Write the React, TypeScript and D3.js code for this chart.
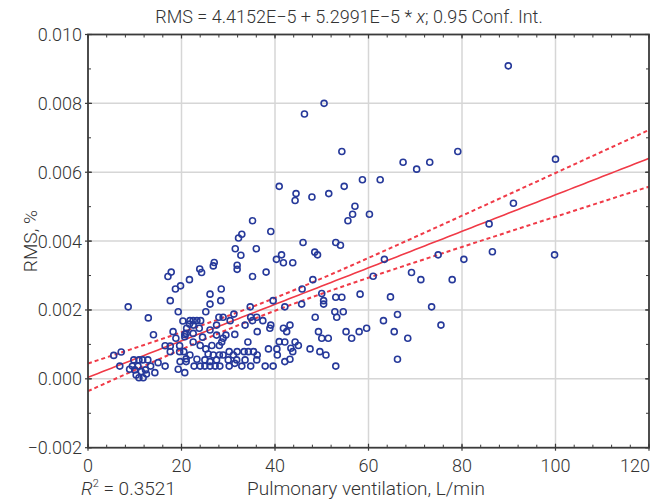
import React from "react";
import * as d3 from "d3";

const ventilation: number[] = [
  89.9, 50.5, 46.3, 54.3, 79.1, 67.4, 73.1, 70.3, 58.7, 62.5, 100.0, 40.9, 54.8, 44.5, 51.5, 47.9, 44.3, 57.1, 56.6, 60.2,
  55.6, 46.0, 53.0, 54.0, 41.4, 48.5, 49.1, 41.8, 43.8, 63.4, 74.9, 80.4, 69.2, 61.0, 71.2, 77.9, 48.1, 45.8, 91.0, 85.8,
  86.5, 99.8, 35.2, 39.1, 32.9, 32.2, 31.5, 36.0, 32.7, 40.3, 27.0, 26.8, 23.9, 24.3, 17.8, 17.1, 31.9, 31.9, 38.1, 35.2,
  21.7, 19.8, 18.7, 28.5, 8.6, 17.6, 19.3, 12.9, 20.3, 14.0, 18.2, 20.7, 18.8, 16.5, 17.6, 19.6, 17.6, 19.6, 7.1, 5.5,
  9.8, 10.9, 11.7, 12.8, 15.0, 6.8, 9.5, 10.7, 13.4, 16.5, 8.9, 10.0, 12.3, 11.4, 14.3, 10.3, 12.5, 19.3, 20.7, 10.9,
  11.8, 26.1, 28.4, 26.1, 25.2, 34.7, 31.2, 28.0, 28.9, 30.4, 34.8, 36.1, 35.2, 37.4, 39.1, 38.9, 21.8, 22.5, 23.3, 24.1,
  22.5, 21.7, 27.5, 21.1, 23.8, 26.1, 36.2, 33.6, 21.0, 20.7, 22.5, 24.5, 27.5, 31.4, 29.5, 28.9, 28.6, 28.1, 26.5, 22.5,
  34.2, 40.9, 24.0, 25.2, 30.2, 31.9, 33.4, 20.5, 25.7, 26.8, 28.1, 28.9, 21.8, 31.1, 34.3, 35.4, 36.2, 38.6, 40.4, 40.5,
  21.0, 21.0, 23.3, 25.0, 27.5, 30.0, 31.8, 33.6, 36.1, 26.1, 22.7, 24.0, 25.0, 26.1, 27.2, 28.2, 30.2, 32.9, 34.8, 37.9,
  39.6, 19.7, 31.4, 50.0, 53.0, 54.3, 58.2, 50.4, 50.4, 45.7, 42.1, 39.6, 48.6, 52.8, 54.6, 53.2, 43.2, 41.8, 42.5, 49.3,
  55.2, 58.0, 59.6, 50.0, 51.4, 56.4, 42.1, 44.3, 45.0, 43.4, 43.8, 47.5, 49.6, 50.9, 43.2, 42.1, 53.0, 64.7, 73.5, 66.2,
  63.2, 75.5, 65.5, 68.4, 66.2,
];

const rms: number[] = [
  0.00909, 0.008, 0.00769, 0.0066, 0.0066, 0.00629, 0.00629, 0.00609, 0.00578, 0.00578, 0.00638, 0.00559, 0.00559, 0.00538, 0.00538, 0.00528, 0.00518, 0.00501, 0.00478, 0.00478,
  0.00459, 0.00396, 0.00396, 0.00388, 0.0036, 0.00368, 0.0036, 0.00337, 0.00337, 0.00347, 0.0036, 0.00347, 0.00309, 0.00298, 0.00288, 0.00288, 0.00288, 0.00261, 0.0051, 0.0045,
  0.00369, 0.0036, 0.00459, 0.00428, 0.0042, 0.00409, 0.00378, 0.00378, 0.00359, 0.00347, 0.00338, 0.00328, 0.00319, 0.00309, 0.0031, 0.00297, 0.0033, 0.00318, 0.0031, 0.00297,
  0.00288, 0.0027, 0.00261, 0.00261, 0.00209, 0.00227, 0.00195, 0.00177, 0.00168, 0.00128, 0.00137, 0.00129, 0.00118, 0.00096, 0.00095, 0.00096, 0.00079, 0.00079, 0.00078, 0.00068,
  0.00055, 0.00055, 0.00055, 0.00055, 0.00047, 0.00037, 0.00037, 0.00037, 0.00037, 0.00037, 0.00028, 0.00026, 0.00026, 0.00021, 0.00018, 0.00011, 0.00014, 0.00028, 0.00018, 0.00003,
  0.00003, 0.00246, 0.00227, 0.00217, 0.00195, 0.00209, 0.00188, 0.00179, 0.00179, 0.00169, 0.00179, 0.00179, 0.00169, 0.00169, 0.00156, 0.00147, 0.00169, 0.00169, 0.00169, 0.00169,
  0.00156, 0.00159, 0.00156, 0.00147, 0.00147, 0.00142, 0.00137, 0.00156, 0.00132, 0.00122, 0.00132, 0.00121, 0.00127, 0.00129, 0.00127, 0.00118, 0.00107, 0.00097, 0.00097, 0.00107,
  0.00107, 0.00108, 0.00097, 0.00087, 0.00079, 0.00079, 0.00079, 0.00079, 0.00072, 0.00069, 0.00069, 0.00069, 0.00069, 0.00069, 0.00079, 0.00079, 0.00069, 0.00087, 0.00087, 0.00069,
  0.00058, 0.0005, 0.00057, 0.00055, 0.00055, 0.00055, 0.00055, 0.00055, 0.00055, 0.0005, 0.00037, 0.00037, 0.00037, 0.00037, 0.00037, 0.00037, 0.00037, 0.00037, 0.00037, 0.00037,
  0.00037, 0.0005, 0.00045, 0.00248, 0.00237, 0.00237, 0.00246, 0.00227, 0.00217, 0.00217, 0.00209, 0.00227, 0.00179, 0.00195, 0.00195, 0.00179, 0.00156, 0.00147, 0.00137, 0.00137,
  0.00137, 0.00137, 0.00147, 0.00118, 0.00118, 0.00118, 0.00107, 0.00107, 0.00097, 0.00089, 0.00079, 0.00087, 0.00079, 0.00069, 0.00057, 0.0005, 0.00037, 0.00238, 0.00209, 0.00187,
  0.00169, 0.00156, 0.00137, 0.00118, 0.00057,
];

const xTicks: number[] = [0, 20, 40, 60, 80, 100, 120];
const yTicks: number[] = [-0.002, 0, 0.002, 0.004, 0.006, 0.008, 0.01];
const xMinorTicks: number[] = d3.range(0, 121, 4);
const yMinorTicks: number[] = d3.range(-2, 11, 1).map((v) => v / 1000);

const INTERCEPT = 4.4152e-5;
const SLOPE = 5.2991e-5;
const R2 = "0.3521";
const T_CRIT = 1.97;

const W = 668;
const H = 501;
const L = 88;
const R = 649;
const T = 34.5;
const B = 447.7;

const FONT = "Roboto, 'Liberation Sans', Arial, sans-serif";

export default function App() {
  const x = d3.scaleLinear().domain([0, 120]).range([L, R]);
  const y = d3.scaleLinear().domain([-0.002, 0.01]).range([B, T]);

  const n = ventilation.length;
  const xbar = d3.mean(ventilation) as number;
  const sxx = d3.sum(ventilation, (v) => (v - xbar) ** 2);
  const sse = d3.sum(ventilation, (v, i) => (rms[i] - (INTERCEPT + SLOPE * v)) ** 2);
  const s = Math.sqrt(sse / (n - 2));
  const grid = d3.range(0, 120.01, 1);
  const half = (v: number) => T_CRIT * s * Math.sqrt(1 / n + (v - xbar) ** 2 / sxx);

  const line = d3
    .line<[number, number]>()
    .x((d) => x(d[0]))
    .y((d) => y(d[1]));

  const fitPts: [number, number][] = grid.map((v) => [v, INTERCEPT + SLOPE * v]);
  const upPts: [number, number][] = grid.map((v) => [v, INTERCEPT + SLOPE * v + half(v)]);
  const loPts: [number, number][] = grid.map((v) => [v, INTERCEPT + SLOPE * v - half(v)]);

  const axisColor = "#3a3a3a";
  const textColor = "#333";
  const red = "#f03a47";

  return (
    <svg width={W} height={H} style={{ position: "absolute", left: 0, top: 0 }} fontFamily={FONT}>
      <rect x={0} y={0} width={W} height={H} fill="#fff" />
      <defs>
        <clipPath id="plot">
          <rect x={L} y={T} width={R - L} height={B - T} />
        </clipPath>
      </defs>
      {xTicks.slice(1, -1).map((t) => (
        <line key={"gx" + t} x1={x(t)} x2={x(t)} y1={T} y2={B} stroke="#d6d6d6" strokeWidth={1.5} />
      ))}
      {yTicks.slice(1, -1).map((t) => (
        <line key={"gy" + t} x1={L} x2={R} y1={y(t)} y2={y(t)} stroke="#d6d6d6" strokeWidth={1.5} />
      ))}
      {xMinorTicks.map((t) => (
        <g key={"mx" + t}>
          <line x1={x(t)} x2={x(t)} y1={B} y2={B - 3} stroke={axisColor} strokeWidth={1} />
          <line x1={x(t)} x2={x(t)} y1={T} y2={T + 3} stroke={axisColor} strokeWidth={1} />
        </g>
      ))}
      {yMinorTicks.map((t) => (
        <g key={"my" + t}>
          <line x1={L} x2={L + 3} y1={y(t)} y2={y(t)} stroke={axisColor} strokeWidth={1} />
          <line x1={R} x2={R - 3} y1={y(t)} y2={y(t)} stroke={axisColor} strokeWidth={1} />
        </g>
      ))}
      {xTicks.map((t) => (
        <g key={"tx" + t}>
          <line x1={x(t)} x2={x(t)} y1={B + 3} y2={B - 4} stroke={axisColor} strokeWidth={1.2} />
          <line x1={x(t)} x2={x(t)} y1={T} y2={T + 4} stroke={axisColor} strokeWidth={1.2} />
        </g>
      ))}
      {yTicks.map((t) => (
        <g key={"ty" + t}>
          <line x1={L - 3} x2={L + 4} y1={y(t)} y2={y(t)} stroke={axisColor} strokeWidth={1.2} />
          <line x1={R} x2={R - 4} y1={y(t)} y2={y(t)} stroke={axisColor} strokeWidth={1.2} />
        </g>
      ))}
      <g clipPath="url(#plot)" fill="none">
        <path d={line(fitPts) || ""} stroke={red} strokeWidth={1.6} />
        <path d={line(upPts) || ""} stroke={red} strokeWidth={2} strokeDasharray="4 3" />
        <path d={line(loPts) || ""} stroke={red} strokeWidth={2} strokeDasharray="4 3" />
      </g>
      <g fill="none" stroke="#26399a" strokeWidth={1.6}>
        {ventilation.map((v, i) => (
          <circle key={i} cx={x(v)} cy={y(rms[i])} r={3} />
        ))}
      </g>
      <rect x={L} y={T} width={R - L} height={B - T} fill="none" stroke={axisColor} strokeWidth={1.8} />
      {xTicks.map((t, i) => (
        <text
          key={"lx" + t}
          x={i === xTicks.length - 1 ? R + 1 : x(t)}
          y={472}
          textAnchor={i === xTicks.length - 1 ? "end" : "middle"}
          fontSize={18}
          fill={textColor}
          fontWeight={300}
        >
          {t}
        </text>
      ))}
      {yTicks.map((t) => (
        <text key={"ly" + t} x={82} y={y(t)} dy="0.36em" textAnchor="end" fontSize={18} fill={textColor} fontWeight={300}>
          {t < 0 ? "\u2212" + d3.format(".3f")(-t) : d3.format(".3f")(t)}
        </text>
      ))}
      <text x={349} y={23} textAnchor="middle" fontSize={18} fill={textColor} fontWeight={300}>
        {"RMS = 4.4152E\u22125 + 5.2991E\u22125 * "}
        <tspan fontStyle="italic">x</tspan>
        {"; 0.95 Conf. Int."}
      </text>
      <text transform={`translate(37,${(T + B) / 2}) rotate(-90)`} textAnchor="middle" fontSize={19} fill={textColor} fontWeight={300}>
        RMS, %
      </text>
      <text x={81} y={495} fontSize={19} fill={textColor} fontWeight={300}>
        <tspan fontStyle="italic">R</tspan>
        <tspan fontSize={11} dy={-8}>2</tspan>
        <tspan dy={8}>{" = " + R2}</tspan>
      </text>
      <text x={366} y={495} textAnchor="middle" fontSize={19} fill={textColor} fontWeight={300}>
        Pulmonary ventilation, L/min
      </text>
    </svg>
  );
}
